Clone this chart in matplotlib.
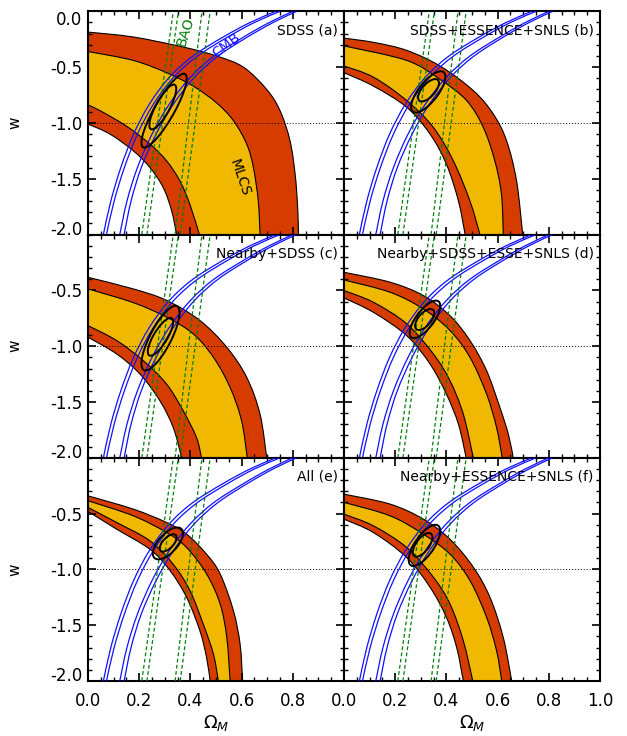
import numpy as np
import matplotlib.pyplot as plt
from matplotlib.patches import Ellipse, PathPatch
from matplotlib.path import Path
from matplotlib.ticker import MultipleLocator, FormatStrFormatter

# ---- data (Omega_M, w) ----
# CMB contours (same in every panel)
cmb_w = [-2.0, -1.7, -1.4, -1.1, -0.83, -0.59, -0.40, -0.23, -0.10, 0.0]
cmb_1 = [0.060, 0.089, 0.128, 0.178, 0.240, 0.318, 0.410, 0.528, 0.633, 0.733]
cmb_2 = [0.072, 0.102, 0.142, 0.193, 0.256, 0.335, 0.428, 0.546, 0.650, 0.750]
cmb_3 = [0.124, 0.152, 0.193, 0.250, 0.318, 0.400, 0.492, 0.608, 0.708, 0.800]
cmb_4 = [0.141, 0.168, 0.208, 0.266, 0.334, 0.416, 0.508, 0.623, 0.723, 0.815]

# BAO contours
bao_w = [-2.0, 0.0]
bao_1 = [0.210, 0.333]
bao_2 = [0.230, 0.353]
bao_3 = [0.340, 0.445]
bao_4 = [0.360, 0.477]

w_lambda = -1.0

# SN contours: 95% outer/inner edge, 68% outer/inner edge
a_red_out = [(0.0, -0.186), (0.177, -0.23), (0.372, -0.32), (0.502, -0.40), (0.607, -0.50),
             (0.698, -0.70), (0.750, -0.89), (0.789, -1.16), (0.809, -1.46), (0.819, -1.76), (0.822, -2.0)]
a_yel_out = [(0.0, -0.36), (0.177, -0.44), (0.307, -0.55), (0.411, -0.67), (0.502, -0.82),
             (0.568, -0.98), (0.620, -1.19), (0.646, -1.40), (0.665, -1.70), (0.672, -2.0)]
a_yel_in = [(0.0, -0.84), (0.047, -0.89), (0.151, -1.03), (0.242, -1.19), (0.307, -1.34),
            (0.359, -1.52), (0.398, -1.73), (0.435, -2.0)]
a_red_in = [(0.0, -1.01), (0.086, -1.10), (0.177, -1.25), (0.242, -1.40), (0.294, -1.58),
            (0.327, -1.79), (0.346, -2.0)]

b_red_out = [(0.0, -0.24), (0.12, -0.28), (0.245, -0.35), (0.375, -0.49), (0.505, -0.71),
             (0.583, -0.92), (0.635, -1.16), (0.674, -1.52), (0.698, -2.0)]
b_yel_out = [(0.0, -0.31), (0.245, -0.44), (0.375, -0.61), (0.479, -0.80), (0.544, -1.04),
             (0.589, -1.34), (0.615, -1.64), (0.622, -2.0)]
b_yel_in = [(0.0, -0.49), (0.115, -0.59), (0.245, -0.80), (0.349, -1.04), (0.427, -1.34),
            (0.492, -1.70), (0.531, -2.0)]
b_red_in = [(0.0, -0.55), (0.115, -0.67), (0.245, -0.86), (0.336, -1.10), (0.40, -1.37),
            (0.447, -1.70), (0.473, -2.0)]

c_red_out = [(0.0, -0.383), (0.177, -0.487), (0.307, -0.59), (0.437, -0.77), (0.542, -1.01),
             (0.620, -1.28), (0.672, -1.61), (0.698, -2.0)]
c_yel_out = [(0.0, -0.487), (0.177, -0.61), (0.307, -0.74), (0.411, -0.89), (0.49, -1.10),
             (0.555, -1.37), (0.60, -1.67), (0.622, -2.0)]
c_yel_in = [(0.0, -0.816), (0.112, -0.95), (0.216, -1.13), (0.307, -1.34), (0.372, -1.58),
            (0.424, -1.82), (0.443, -2.0)]
c_red_in = [(0.0, -0.92), (0.112, -1.07), (0.203, -1.25), (0.281, -1.49), (0.333, -1.73),
            (0.366, -2.0)]

d_red_out = [(0.0, -0.338), (0.18, -0.427), (0.31, -0.547), (0.414, -0.727), (0.492, -0.95),
             (0.557, -1.22), (0.609, -1.55), (0.642, -1.79), (0.661, -2.0)]
d_yel_out = [(0.0, -0.407), (0.18, -0.517), (0.31, -0.667), (0.414, -0.86), (0.492, -1.10),
             (0.557, -1.43), (0.596, -1.73), (0.618, -2.0)]
d_yel_in = [(0.0, -0.502), (0.115, -0.607), (0.245, -0.80), (0.349, -1.07), (0.414, -1.31),
            (0.466, -1.61), (0.505, -2.0)]
d_red_in = [(0.0, -0.568), (0.115, -0.697), (0.245, -0.906), (0.336, -1.16), (0.40, -1.43),
            (0.447, -1.70), (0.477, -2.0)]

e_red_out = [(0.0, -0.341), (0.177, -0.46), (0.307, -0.58), (0.385, -0.684), (0.463, -0.864),
             (0.516, -1.04), (0.568, -1.37), (0.594, -1.67), (0.604, -2.0)]
e_yel_out = [(0.0, -0.385), (0.177, -0.52), (0.307, -0.67), (0.385, -0.804), (0.463, -1.04),
             (0.516, -1.31), (0.542, -1.61), (0.555, -2.0)]
e_yel_in = [(0.0, -0.445), (0.112, -0.58), (0.242, -0.744), (0.333, -0.955), (0.398, -1.19),
            (0.45, -1.49), (0.49, -1.76), (0.509, -2.0)]
e_red_in = [(0.0, -0.48), (0.112, -0.64), (0.242, -0.82), (0.32, -1.01), (0.385, -1.25),
            (0.437, -1.55), (0.463, -1.79), (0.477, -2.0)]

f_red_out = [(0.0, -0.326), (0.18, -0.415), (0.31, -0.55), (0.414, -0.73), (0.505, -0.98),
             (0.57, -1.25), (0.622, -1.61), (0.655, -2.0)]
f_yel_out = [(0.0, -0.40), (0.18, -0.52), (0.31, -0.685), (0.414, -0.864), (0.492, -1.10),
             (0.557, -1.43), (0.596, -1.73), (0.616, -2.0)]
f_yel_in = [(0.0, -0.505), (0.115, -0.61), (0.245, -0.804), (0.349, -1.07), (0.414, -1.31),
            (0.466, -1.64), (0.503, -2.0)]
f_red_in = [(0.0, -0.55), (0.115, -0.67), (0.245, -0.894), (0.336, -1.16), (0.40, -1.43),
            (0.44, -1.70), (0.466, -2.0)]

# joint confidence ellipses: (Omega_M, w, width, height, angle)
a_ell = [(0.297, -0.89, 0.68, 0.085, 76.7), (0.292, -0.857, 0.41, 0.060, 77.7)]
b_ell = [(0.329, -0.722, 0.384, 0.088, 74.3), (0.330, -0.707, 0.208, 0.060, 73.8)]
c_ell = [(0.283, -0.928, 0.592, 0.090, 78.3), (0.283, -0.916, 0.348, 0.060, 76.7)]
d_ell = [(0.316, -0.760, 0.348, 0.080, 74.8), (0.315, -0.761, 0.194, 0.058, 75.0)]
e_ell = [(0.312, -0.767, 0.296, 0.088, 73.9), (0.313, -0.763, 0.162, 0.050, 73.6)]
f_ell = [(0.314, -0.785, 0.380, 0.085, 76.1), (0.307, -0.780, 0.218, 0.058, 76.2)]

titles = ['SDSS (a)', 'SDSS+ESSENCE+SNLS (b)', 'Nearby+SDSS (c)',
          'Nearby+SDSS+ESSE+SNLS (d)', 'All (e)', 'Nearby+ESSENCE+SNLS (f)']

panels = [
    (a_red_out, a_yel_out, a_yel_in, a_red_in, a_ell),
    (b_red_out, b_yel_out, b_yel_in, b_red_in, b_ell),
    (c_red_out, c_yel_out, c_yel_in, c_red_in, c_ell),
    (d_red_out, d_yel_out, d_yel_in, d_red_in, d_ell),
    (e_red_out, e_yel_out, e_yel_in, e_red_in, e_ell),
    (f_red_out, f_yel_out, f_yel_in, f_red_in, f_ell),
]

RED = '#d63c00'
YEL = '#f0b800'
BLUE = '#1010ff'
GREEN = '#00800a'


def smooth(pts):
    # cubic bezier segments through the read points (catmull-rom tangents)
    pts = np.asarray(pts, float)
    n = len(pts)
    verts, codes = [pts[0]], [Path.MOVETO]
    for k in range(n - 1):
        p0 = pts[k - 1] if k > 0 else pts[k]
        p1, p2 = pts[k], pts[k + 1]
        p3 = pts[k + 2] if k + 2 < n else pts[k + 1]
        verts += [p1 + (p2 - p0) / 6, p2 - (p3 - p1) / 6, p2]
        codes += [Path.CURVE4] * 3
    return verts, codes


def band(outer, inner):
    v1, c1 = smooth(outer)
    v2, c2 = smooth(inner[::-1])
    c2 = [Path.LINETO] + c2[1:]
    verts = v1 + v2 + [v1[0]]
    codes = c1 + c2 + [Path.CLOSEPOLY]
    return Path(verts, codes)


fig = plt.figure(figsize=(6.27, 7.36), dpi=100)
lefts = [0.1404, 0.5487]
bottoms = [0.6813, 0.3780, 0.0747]
W, H = 0.4083, 0.3033

for i, (red_out, yel_out, yel_in, red_in, ells) in enumerate(panels):
    row, col = i // 2, i % 2
    ax = fig.add_axes([lefts[col], bottoms[row], W, H])

    ax.add_patch(PathPatch(band(red_out, red_in), fc=RED, ec='none', zorder=1))
    ax.add_patch(PathPatch(band(yel_out, yel_in), fc=YEL, ec='none', zorder=2))
    for curve in (red_out, yel_out, yel_in, red_in):
        v, c = smooth(curve)
        ax.add_patch(PathPatch(Path(v, c), fill=False, ec='black', lw=0.8, zorder=3))

    for line in (cmb_1, cmb_2, cmb_3, cmb_4):
        v, c = smooth(list(zip(line, cmb_w)))
        ax.add_patch(PathPatch(Path(v, c), fill=False, ec=BLUE, lw=0.9, zorder=4))
    for line in (bao_1, bao_2, bao_3, bao_4):
        ax.plot(line, bao_w, color=GREEN, lw=0.9, ls=(0, (3, 2)), zorder=4)

    for (cx, cy, ew, eh, ang) in ells:
        ax.add_patch(Ellipse((cx, cy), ew, eh, angle=ang, fill=False,
                             ec='black', lw=1.4, zorder=5))

    ax.axhline(w_lambda, color='black', lw=0.7, ls=(0, (1, 2)), zorder=5)

    ax.text(0.975, -0.17, titles[i], ha='right', va='center', fontsize=10, zorder=6)

    ax.set_xlim(0, 1)
    ax.set_ylim(-2.0, 0.0)
    ax.xaxis.set_major_locator(MultipleLocator(0.2))
    ax.xaxis.set_minor_locator(MultipleLocator(0.05))
    ax.yaxis.set_major_locator(MultipleLocator(0.5))
    ax.yaxis.set_minor_locator(MultipleLocator(0.1))
    ax.xaxis.set_major_formatter(FormatStrFormatter('%.1f'))
    ax.yaxis.set_major_formatter(FormatStrFormatter('%.1f'))
    ax.tick_params(which='both', direction='in', top=True, right=True, labelsize=12)
    ax.tick_params(which='major', length=6, width=1.2)
    ax.tick_params(which='minor', length=3, width=1.0)
    ax.tick_params(axis='x', pad=8)
    ax.tick_params(axis='y', pad=4)
    for sp in ax.spines.values():
        sp.set_linewidth(1.5)

    if col == 1:
        ax.tick_params(labelleft=False)
    else:
        ax.set_ylabel('w', fontsize=11)
        ax.yaxis.set_label_coords(-0.255, 0.5)
        if row > 0:
            ax.set_yticks([-2.0, -1.5, -1.0, -0.5])
        else:
            ax.set_yticks([-2.0, -1.5, -1.0, -0.5, 0.0])
        yt = ax.yaxis.get_major_ticks()
        yt[0].label1.set_va('baseline')
        if row == 0:
            yt[-1].label1.set_va('top')
    if row < 2:
        ax.tick_params(labelbottom=False)
    else:
        if col == 0:
            ax.set_xticks([0.0, 0.2, 0.4, 0.6, 0.8])
        fig.text(lefts[col] + W / 2, 0.017, r'$\Omega_M$', ha='center', va='center', fontsize=13)

    if i == 0:
        ax.text(0.594, -1.49, 'MLCS', rotation=-71, ha='center', va='center', fontsize=10, zorder=6)
        ax.text(0.541, -0.306, 'CMB', rotation=37, ha='center', va='center', fontsize=10,
                color=BLUE, zorder=6)
        ax.text(0.379, -0.186, 'BAO', rotation=72, ha='center', va='center', fontsize=10,
                color=GREEN, zorder=6)

fig.savefig('out.png', dpi=100)
